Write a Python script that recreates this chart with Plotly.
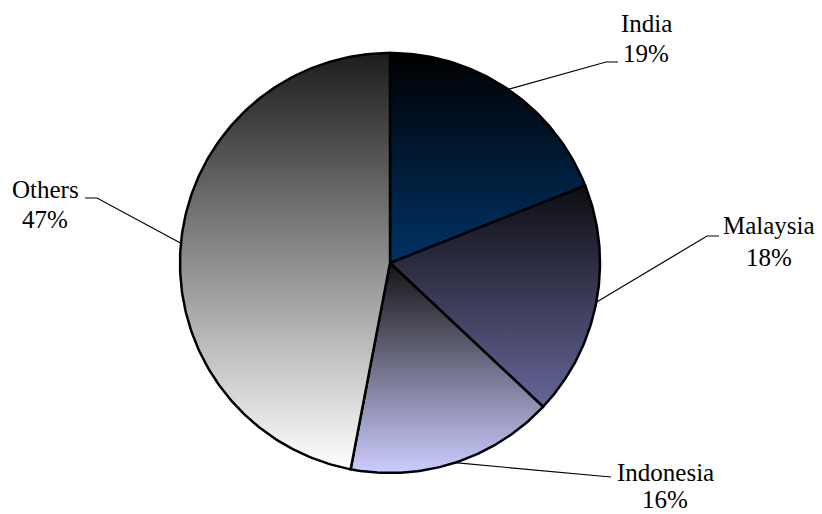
import numpy as np
import plotly.graph_objects as go

# ---- data ----
labels = ["India", "Malaysia", "Indonesia", "Others"]
values = [19, 18, 16, 47]
top_colors = ["#000000", "#0d0d12", "#141414", "#1c1c1c"]
bottom_colors = ["#003366", "#666699", "#ccccff", "#ffffff"]

# ---- layout (reference pixel coordinate space) ----
W, H = 822, 514
OFF = 8  # browser body margin
cx, cy, R = 390, 263, 210

label_pos = {  # text centre x, name/percent centre y, leader elbow / end
    "India": dict(tx=646, ty=(23, 53), elbow=(606, 62), end=(618, 62)),
    "Malaysia": dict(tx=769, ty=(226, 257), elbow=(707, 236), end=(719, 236)),
    "Indonesia": dict(tx=665, ty=(472, 499), elbow=(607, 477), end=(611, 477)),
    "Others": dict(tx=45, ty=(190, 219), elbow=(97, 198), end=(85, 198)),
}

FONT = "Liberation Serif"


def to_paper(px, py):
    return (px - OFF) / (W - OFF), 1 - (py - OFF) / (H - OFF)


fig = go.Figure()
total = sum(values)
start = 0.0
for lab, val, c0, c1 in zip(labels, values, top_colors, bottom_colors):
    a0 = start / total * 2 * np.pi
    a1 = (start + val) / total * 2 * np.pi
    th = np.linspace(a0, a1, max(int(val * 4), 10))
    xs = np.concatenate([[cx], cx + R * np.sin(th), [cx]])
    ys = np.concatenate([[cy], cy - R * np.cos(th), [cy]])
    fig.add_trace(go.Scatter(
        x=xs, y=ys, mode="lines", fill="toself",
        line=dict(color="black", width=2.5),
        fillgradient=dict(type="vertical",
                          colorscale=[[0, c1], [1, c0]]),
        hoverinfo="skip", showlegend=False,
    ))
    am = (a0 + a1) / 2
    ex, ey = cx + R * np.sin(am), cy - R * np.cos(am)
    p = label_pos[lab]
    fig.add_trace(go.Scatter(
        x=[ex, p["elbow"][0], p["end"][0]],
        y=[ey, p["elbow"][1], p["end"][1]],
        mode="lines", line=dict(color="black", width=1.2),
        hoverinfo="skip", showlegend=False,
    ))
    for txt, ty in zip([lab, f"{round(val / total * 100)}%"], p["ty"]):
        ax_, ay_ = to_paper(p["tx"], ty)
        fig.add_annotation(
            x=ax_, y=ay_, xref="paper", yref="paper", text=txt,
            showarrow=False, xanchor="center", yanchor="middle",
            font=dict(family=FONT, size=25, color="black"),
        )
    start += val

fig.update_xaxes(range=[OFF, W], visible=False, fixedrange=True)
fig.update_yaxes(range=[H, OFF], visible=False, fixedrange=True)
fig.update_layout(
    width=W - OFF, height=H - OFF, margin=dict(l=0, r=0, t=0, b=0),
    paper_bgcolor="white", plot_bgcolor="white",
    font=dict(family=FONT, color="black"),
)
fig.write_html("out.html")
